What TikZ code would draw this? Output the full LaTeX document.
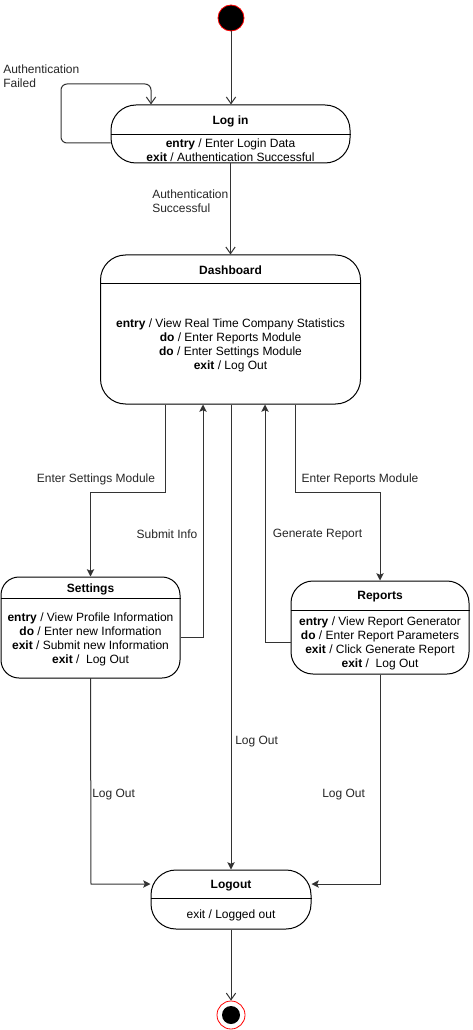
\documentclass[tikz,border=0pt]{standalone}
\usepackage{fontspec}
\setmainfont{Liberation Sans}
\usetikzlibrary{arrows.meta,calc}
\begin{document}
\begin{tikzpicture}[x=0.75pt,y=-0.75pt,
  every node/.style={font=\fontsize{9}{10.5}\selectfont},
  statebox/.style={draw=black,line width=0.75pt,rounded corners=#1,fill=white,inner sep=0pt,shape=rectangle},
  ttl/.style={font=\bfseries\fontsize{9}{10.5}\selectfont,inner sep=0pt,yshift=-1.5pt},
  bodytxt/.style={align=center,inner sep=0pt,yshift=-1.5pt},
  conn/.style={draw=black!80,line width=0.75pt},
  openarr/.style={conn,-{Straight Barb[length=5pt,width=7pt,line width=0.75pt]}},
  fillarr/.style={conn,-{Stealth[length=5.5pt,width=5.5pt,inset=1.2pt]}},
  lbl/.style={text=black!85,inner sep=0pt,yshift=-0.8pt},
  hdr/.style={line width=0.75pt,draw=black}
]
\useasboundingbox (0,0) rectangle (472,1030);

% initial
\node[circle,fill=black,draw=red,line width=0.6pt,minimum size=19.5pt,inner sep=0pt] (init) at (231,18) {};

% Log in
\node[statebox=18.75pt,minimum width=179.25pt,minimum height=43.5pt] (login) at (230.5,134) {};
\draw[hdr] ($(login.north west)+(0,30)$) -- ($(login.north east)+(0,30)$);
\node[ttl] (logint) at ($(login.north)+(0,15)$) {Log in};
\node[bodytxt] (loginb) at ($(login.north)+(0,44)$) {\textbf{entry} / Enter Login Data\\\textbf{exit} / Authentication Successful};

% Dashboard
\node[statebox=18.75pt,minimum width=195pt,minimum height=111.75pt] (dash) at (230.5,329.5) {};
\draw[hdr] ($(dash.north west)+(0,29)$) -- ($(dash.north east)+(0,29)$);
\node[ttl] (dasht) at ($(dash.north)+(0,14)$) {Dashboard};
\node[bodytxt] (dashb) at ($(dash.north)+(0,89)$) {\textbf{entry} / View Real Time Company Statistics\\\textbf{do} / Enter Reports Module\\\textbf{do} / Enter Settings Module\\\textbf{exit} / Log Out};

% Settings
\node[statebox=13.5pt,minimum width=134.25pt,minimum height=75.75pt] (set) at (90.5,627.5) {};
\draw[hdr] ($(set.north west)+(0,22)$) -- ($(set.north east)+(0,22)$);
\node[ttl] (sett) at ($(set.north)+(0,11)$) {Settings};
\node[bodytxt] (setb) at ($(set.north)+(0,61)$) {\textbf{entry} / View Profile Information\\\textbf{do} / Enter new Information\\\textbf{exit} / Submit new Information\\\textbf{exit} /\ \ Log Out};

% Reports
\node[statebox=16.5pt,minimum width=133.5pt,minimum height=69.75pt] (rep) at (380,627.5) {};
\draw[hdr] ($(rep.north west)+(0,30)$) -- ($(rep.north east)+(0,30)$);
\node[ttl] (rept) at ($(rep.north)+(0,14)$) {Reports};
\node[bodytxt] (repb) at ($(rep.north)+(0,61)$) {\textbf{entry} / View Report Generator\\\textbf{do} / Enter Report Parameters\\\textbf{exit} / Click Generate Report\\\textbf{exit} /\ \ Log Out};

% Logout
\node[statebox=18.75pt,minimum width=120pt,minimum height=44.25pt] (lo) at (231,899.5) {};
\draw[hdr] ($(lo.north west)+(0,29)$) -- ($(lo.north east)+(0,29)$);
\node[ttl] (lot) at ($(lo.north)+(0,14)$) {Logout};
\node[bodytxt] (lob) at ($(lo.north)+(0,44)$) {exit / Logged out};

% final
\node[circle,draw=red,fill=white,line width=0.6pt,minimum size=21pt,inner sep=0pt] (fin) at (231,1015) {};
\node[circle,fill=black,minimum size=13.5pt,inner sep=0pt] (finin) at (231,1015) {};

% coordinates
\coordinate (loopA) at (61,143);
\coordinate (loopB) at (151,84);
\coordinate (es) at (165,492);
\coordinate (er) at (295,492);
\coordinate (si) at (203,637);
\coordinate (gr) at (265,642);
\coordinate (slo) at (91,884);
\coordinate (rlo) at (380,884);

% connectors
\draw[openarr] (init) -- (login.north -| init);
\draw[openarr,rounded corners=4.5pt] (login.west |- loopA) -- (loopA) -- (loopA |- loopB) -- (loopB) -- (login.north -| loopB);
\draw[openarr] (login.south -| dash.north) -- (dash.north);
\draw[fillarr] (dash.south -| es) -- (es) -- (es -| set.north) -- (set.north);
\draw[fillarr] (set.east |- si) -- (si) -- (dash.south -| si);
\draw[fillarr] (dash.south -| lo.north) -- (lo.north);
\draw[fillarr] (rep.west |- gr) -- (gr) -- (dash.south -| gr);
\draw[fillarr] (dash.south -| er) -- (er) -- (er -| rep.north) -- (rep.north);
\draw[fillarr] (set.south |- 0,678) -- (slo) -- (lo.west |- slo);
\draw[fillarr] (rep.south) -- (rlo) -- (lo.east |- rlo);
\draw[openarr] (lo.south) -- (fin.north);

% labels
\node[lbl,anchor=west,align=left] (lfail) at (3,75) {Authentication\\Failed};
\node[lbl,anchor=west,align=left] (lsucc) at (152,200.5) {Authentication\\Successful};
\node[lbl] (les) at (96,478) {Enter Settings Module};
\node[lbl] (lsi) at (167,533) {Submit Info};
\node[lbl] (lgr) at (317.5,533) {Generate Report};
\node[lbl] (ler) at (360,478) {Enter Reports Module};
\node[lbl,anchor=west] (llo1) at (235,740) {Log Out};
\node[lbl,anchor=west] (llo2) at (92,793) {Log Out};
\node[lbl,anchor=west] (llo3) at (322,793) {Log Out};
\end{tikzpicture}
\end{document}
